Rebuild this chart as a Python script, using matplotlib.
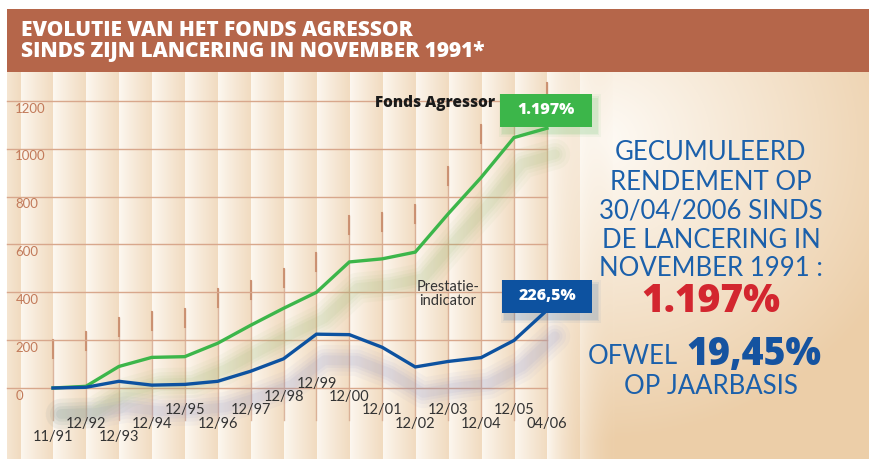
import numpy as np
import matplotlib
matplotlib.use("Agg")
import matplotlib.pyplot as plt
from matplotlib.patches import Rectangle
from matplotlib import transforms

# data (cumulative return, %)
periods = ["11/91", "12/92", "12/93", "12/94", "12/95", "12/96", "12/97", "12/98",
           "12/99", "12/00", "12/01", "12/02", "12/03", "12/04", "12/05", "04/06"]
fonds_agressor = [0, 7, 90, 128, 131, 187, 262, 333, 400, 527, 540, 568, 728, 880, 1047, 1086]
prestatie_indicator = [0, 3, 28, 12, 15, 28, 70, 122, 225, 223, 170, 88, 111, 127, 199, 325]
yticks = [0, 200, 400, 600, 800, 1000, 1200]

# staggered label rows (pixels below the zero line) and decorative tick tops
label_rows = [49, 36, 49, 36, 22, 36, 22, 9, -4, 9, 22, 36, 22, 36, 22, 36]
tick_tops = [340, 332, 318, 312, 309, 289, 281, 269, 253, 216, 213, 205, 167, 125, 100, 83]

W, H = 869, 459
X0, DX = 53, 32.93      # pixel of first category, spacing
Y0, SY = 388, 0.2392    # pixel of value 0, pixels per unit

GREEN = "#3cb64a"
BLUE = "#0d52a0"
GRID = "#d8a78c"
TXT_BLUE = "#1b60ab"
HEAVY = ["Open Sans", "DejaVu Sans"]

plt.rcParams["font.family"] = ["Lato", "DejaVu Sans"]

fig = plt.figure(figsize=(W / 100, H / 100), dpi=100)


def fx(px):
    return px / W


def fy(py):
    return 1 - py / H


# background: striped cream/tan columns fading into a smooth gradient on the right
xx = np.arange(W)[None, :].astype(float)
yy = np.arange(H)[:, None].astype(float)
light = np.array([254, 251, 246]) / 255
tan = np.array([241, 219, 192]) / 255
deep = np.array([236, 206, 168]) / 255
phase = ((xx - X0) % DX) / DX
t = (0.1 + 0.9 * phase ** 0.9)[..., None]
stripes = light * (1 - t) + tan * t
stripes = np.broadcast_to(stripes, (H, W, 3))
d = np.sqrt(((xx - 600) / 330) ** 2 + ((yy - 140) / 300) ** 2)
td = np.clip(d, 0, 1)[..., None]
smooth = light * (1 - td) + deep * td
m = np.clip((xx - 545) / 70, 0, 1)[..., None]
img = np.array(stripes * (1 - m) + smooth * m)
img[:, :7] = 1
img[:9, :] = 1

bg = fig.add_axes([0, 0, 1, 1], zorder=0)
bg.imshow(img, aspect="auto", extent=[0, W, H, 0], interpolation="bilinear")
bg.set_xlim(0, W)
bg.set_ylim(H, 0)
bg.axis("off")

# title banner
fig.patches.append(Rectangle((fx(7), fy(72)), fx(W - 7), 63 / H, transform=fig.transFigure,
                             facecolor="#b5664a", edgecolor="none", zorder=1))
for py, line in [(31, "EVOLUTIE VAN HET FONDS AGRESSOR"),
                 (51, "SINDS ZIJN LANCERING IN NOVEMBER 1991*")]:
    fig.text(fx(21), fy(py), line, color="white", fontsize=15, family=HEAVY,
             fontweight=800, va="center", ha="left", zorder=2)

# main axes mapped so category i sits at X0 + i*DX pixels
ax = fig.add_axes([0, 0, 1, 1], zorder=2)
ax.patch.set_alpha(0)
ax.set_xlim(-X0 / DX, (W - X0) / DX)
ax.set_ylim(-(H - Y0) / SY, Y0 / SY)
ax.axis("off")

xs = np.arange(len(periods))
x_left = (7 - X0) / DX
x_right = xs[-1]

# decorative vertical ticks
for i, top in enumerate(tick_tops):
    top_v = (Y0 - top) / SY
    ax.plot([i, i], [top_v, (Y0 - 420) / SY], color="#d6aa90", lw=1.0, alpha=0.85, zorder=1)
    ax.plot([i, i], [top_v, top_v - 18 / SY], color="#c98c6c", lw=1.5, alpha=0.9, zorder=1)

# horizontal grid + y labels
for v in yticks:
    ax.plot([x_left, x_right], [v, v], color=GRID, lw=1.0, zorder=1)
    ax.annotate(str(v), xy=(x_left, v), xytext=(6, -5.5), textcoords="offset points",
                ha="left", va="center", fontsize=9.5, color="#c27a5a")

# blurred shadows under the lines
shadow_off = transforms.offset_copy(ax.transData, fig=fig, x=8, y=-26, units="dots")
for w, a in [(22, 0.05), (16, 0.06), (11, 0.07), (7, 0.08)]:
    ax.plot(xs, fonds_agressor, color="#8fb56a", lw=w, alpha=a, transform=shadow_off,
            solid_capstyle="round", solid_joinstyle="round", zorder=2)
    ax.plot(xs, prestatie_indicator, color="#8a8fc4", lw=w, alpha=a * 1.1, transform=shadow_off,
            solid_capstyle="round", solid_joinstyle="round", zorder=2)

ax.plot(xs, fonds_agressor, color=GREEN, lw=2.4, zorder=4, solid_joinstyle="miter")
ax.plot(xs, prestatie_indicator, color=BLUE, lw=2.4, zorder=4, solid_joinstyle="miter")

# staggered x labels
for i, (lab, row) in enumerate(zip(periods, label_rows)):
    ax.annotate(lab, xy=(i, 0), xytext=(0, -row * 0.72), textcoords="offset points",
                ha="center", va="center", fontsize=10.5, color="#333333", zorder=5)

# series labels
fig.text(fx(435), fy(103), "Fonds Agressor", ha="center", va="center", fontsize=11,
         family=HEAVY, fontweight=800, color="#1a1a1a", zorder=5)
fig.text(fx(448), fy(294), "Prestatie-\nindicator", ha="center", va="center", fontsize=10.5,
         color="#333333", linespacing=0.95, zorder=5)

# value boxes
for (x1, y1, x2, y2, col, txt) in [(500, 94, 592, 127, GREEN, "1.197%"),
                                   (502, 280, 592, 313, BLUE, "226,5%")]:
    for k, a in [(10, 0.05), (6, 0.07), (3, 0.09)]:
        fig.patches.append(Rectangle((fx(x1 + 4 - k / 2), fy(y2 + 5 + k / 2)),
                                     (x2 - x1 + k) / W, (y2 - y1 + k) / H,
                                     transform=fig.transFigure, facecolor=col,
                                     edgecolor="none", alpha=a, zorder=3))
    fig.patches.append(Rectangle((fx(x1), fy(y2)), (x2 - x1) / W, (y2 - y1) / H,
                                 transform=fig.transFigure, facecolor=col,
                                 edgecolor="none", zorder=4))
    fig.text(fx((x1 + x2) / 2), fy((y1 + y2) / 2), txt, ha="center", va="center",
             fontsize=11.5, family=HEAVY, fontweight=800, color="white", zorder=5)

# right-hand text block
cx = 711
for py, line in [(152, "GECUMULEERD"), (182, "RENDEMENT OP"), (211, "30/04/2006 SINDS"),
                 (240, "DE LANCERING IN"), (269, "NOVEMBER 1991 :")]:
    fig.text(fx(cx), fy(py), line, ha="center", va="center", fontsize=18.5,
             color=TXT_BLUE, zorder=5)
fig.text(fx(cx), fy(302), "1.197%", ha="center", va="center", fontsize=28,
         family=HEAVY, fontweight=800, color="#d3262f", zorder=5)
fig.text(fx(678), fy(357), "OFWEL", ha="right", va="center", fontsize=18.5,
         color=TXT_BLUE, zorder=5)
fig.text(fx(686), fy(355), "19,45%", ha="left", va="center", fontsize=27,
         family=HEAVY, fontweight=800, color="#1553a0", zorder=5)
fig.text(fx(cx), fy(386), "OP JAARBASIS", ha="center", va="center", fontsize=18.5,
         color=TXT_BLUE, zorder=5)

fig.savefig("out.png", dpi=100)
